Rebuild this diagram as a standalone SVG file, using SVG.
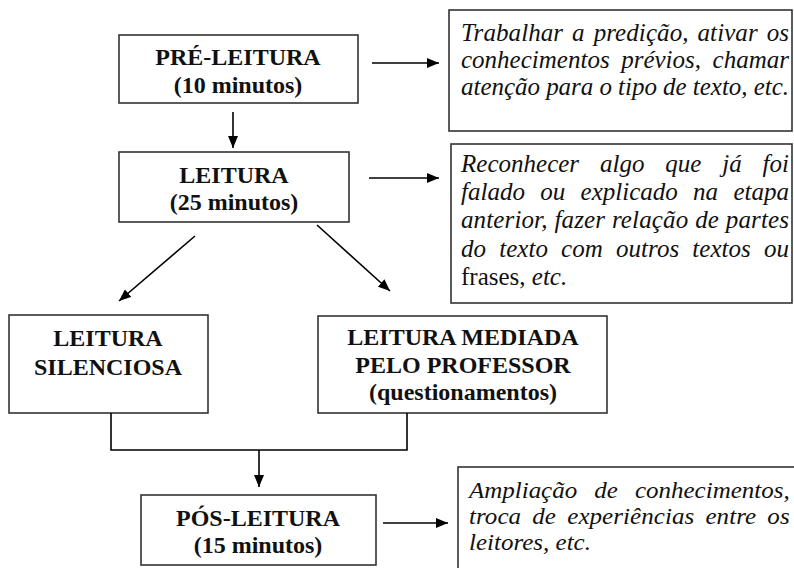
<svg xmlns="http://www.w3.org/2000/svg" width="794" height="568" viewBox="0 0 794 568">
<defs>
<style>
.box{fill:#fff;stroke:#333;stroke-width:1.6}
.b{font-family:"Liberation Serif","Times New Roman",serif;font-weight:bold;font-size:24px;text-anchor:middle;fill:#111}
.i{font-family:"Liberation Serif","Times New Roman",serif;font-style:italic;font-size:25px;fill:#111}
.i3{font-family:"Liberation Serif","Times New Roman",serif;font-style:italic;font-size:23px;fill:#111}
.r{font-style:normal}
.ln{stroke:#000;stroke-width:1.6;fill:none}
</style>
<marker id="ah" viewBox="0 0 12 10" refX="12" refY="5" markerWidth="12" markerHeight="10" markerUnits="userSpaceOnUse" orient="auto">
<path d="M0,0 L12,5 L0,10 Z" fill="#000"/>
</marker>
</defs>
<rect width="794" height="568" fill="#fff"/>

<g id="pre-leitura">
<rect class="box" x="119" y="35" width="239" height="68"/>
<text class="b" x="238" y="65">PRÉ-LEITURA</text>
<text class="b" x="238" y="93">(10 minutos)</text>
</g>

<g id="nota-pre">
<rect class="box" x="449" y="10" width="343" height="121"/>
<text class="i" x="461" y="41" style="word-spacing:2.6px" textLength="328" lengthAdjust="spacing">Trabalhar a predição, ativar os</text>
<text class="i" x="461" y="68" style="word-spacing:5.3px" textLength="328" lengthAdjust="spacing">conhecimentos prévios, chamar</text>
<text class="i" x="461" y="95" textLength="328" lengthAdjust="spacing">atenção para o tipo de texto, etc.</text>
</g>

<g id="leitura">
<rect class="box" x="119" y="152" width="230" height="70"/>
<text class="b" x="234" y="183">LEITURA</text>
<text class="b" x="234" y="210">(25 minutos)</text>
</g>

<g id="nota-leitura">
<rect class="box" x="451" y="144" width="341" height="159"/>
<text class="i" x="461" y="172" style="word-spacing:14.6px" textLength="328" lengthAdjust="spacing">Reconhecer algo que já foi</text>
<text class="i" x="461" y="200" style="word-spacing:9px" textLength="328" lengthAdjust="spacing">falado ou explicado na etapa</text>
<text class="i" x="461" y="228" style="word-spacing:0.5px" textLength="328" lengthAdjust="spacing">anterior, fazer relação de partes</text>
<text class="i" x="461" y="257" style="word-spacing:6.8px" textLength="328" lengthAdjust="spacing">do texto com outros textos ou</text>
<text class="i" x="461" y="285"><tspan class="r">frases,</tspan> etc.</text>
</g>

<g id="leitura-silenciosa">
<rect class="box" x="9" y="315" width="199" height="98"/>
<text class="b" x="108" y="346">LEITURA</text>
<text class="b" x="108" y="375">SILENCIOSA</text>
</g>

<g id="leitura-mediada">
<rect class="box" x="318" y="316" width="289" height="97"/>
<text class="b" x="463" y="345">LEITURA MEDIADA</text>
<text class="b" x="463" y="373">PELO PROFESSOR</text>
<text class="b" x="463" y="400">(questionamentos)</text>
</g>

<g id="pos-leitura">
<rect class="box" x="141" y="495" width="235" height="70"/>
<text class="b" x="258" y="526">PÓS-LEITURA</text>
<text class="b" x="258" y="553">(15 minutos)</text>
</g>

<g id="nota-pos">
<rect class="box" x="458" y="467" width="345" height="120"/>
<g transform="translate(469,0) scale(1.087,1)">
<text class="i3" x="0" y="498" style="word-spacing:10px" textLength="295" lengthAdjust="spacing">Ampliação de conhecimentos,</text>
<text class="i3" x="0" y="524" style="word-spacing:4.5px" textLength="295" lengthAdjust="spacing">troca de experiências entre os</text>
<text class="i3" x="0" y="550">leitores, etc.</text>
</g>
</g>

<g id="connectors">
<line class="ln" x1="372" y1="63" x2="439" y2="63" marker-end="url(#ah)"/>
<line class="ln" x1="233" y1="112" x2="233" y2="148" marker-end="url(#ah)"/>
<line class="ln" x1="369" y1="178" x2="439" y2="178" marker-end="url(#ah)"/>
<line class="ln" x1="195" y1="236" x2="119" y2="301" marker-end="url(#ah)"/>
<line class="ln" x1="317" y1="225" x2="390" y2="291" marker-end="url(#ah)"/>
<polyline class="ln" points="111,413 111,450 407,450 407,413"/>
<line class="ln" x1="259" y1="450" x2="259" y2="487" marker-end="url(#ah)"/>
<line class="ln" x1="383" y1="523" x2="448" y2="523" marker-end="url(#ah)"/>
</g>
</svg>
